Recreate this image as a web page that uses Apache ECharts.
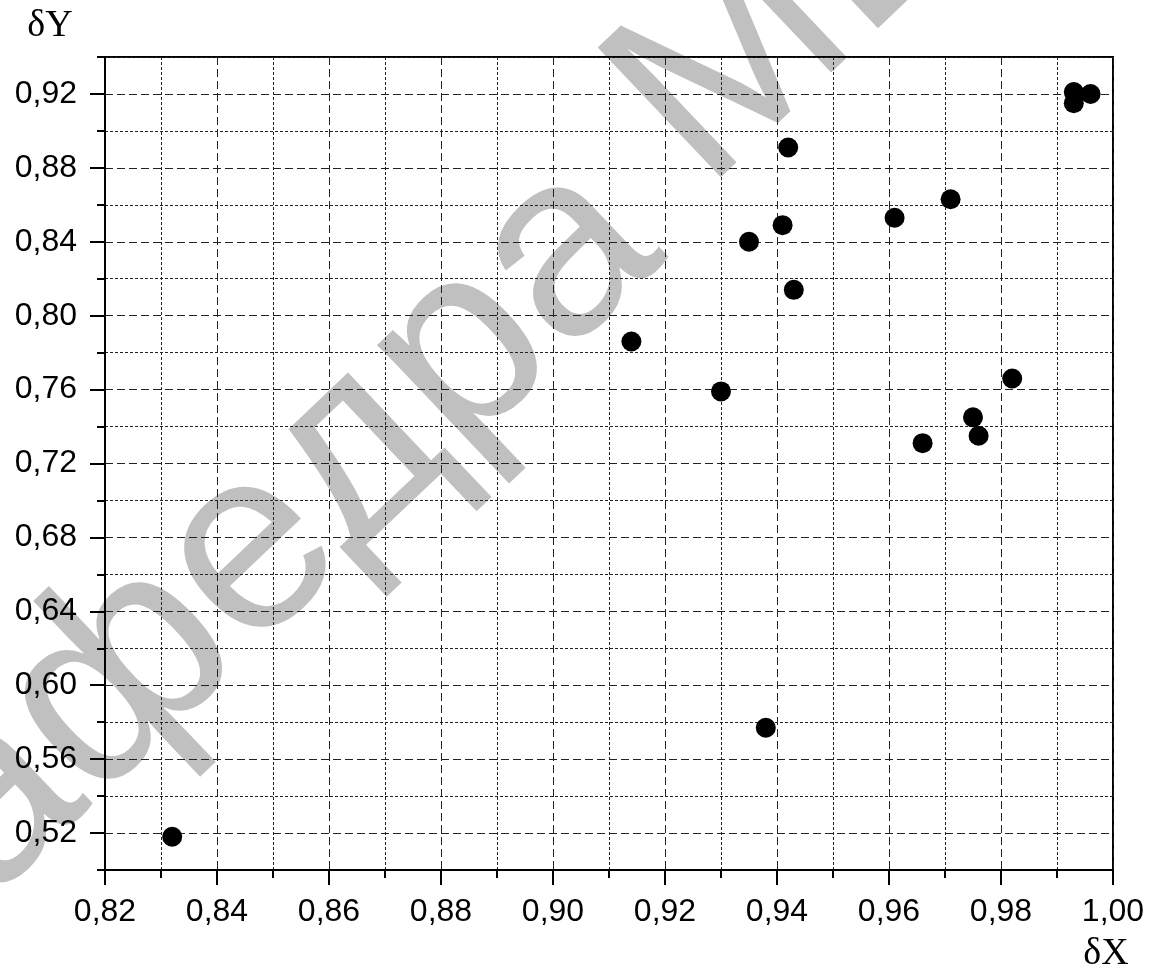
<!DOCTYPE html>
<html>
<head>
<meta charset="utf-8">
<title>δY vs δX</title>
<script src="https://cdn.jsdelivr.net/npm/echarts@6/dist/echarts.min.js"></script>
<style>
  html, body { margin: 0; padding: 0; background: #fff; }
  #chart { width: 1157px; height: 973px; }
</style>
</head>
<body>
<div id="chart"></div>
<script>
// Measured pairs (δX, δY)
const dX = [0.832, 0.914, 0.930, 0.935, 0.938, 0.941, 0.942, 0.943, 0.961,
            0.966, 0.971, 0.975, 0.976, 0.982, 0.993, 0.993, 0.996];
const dY = [0.518, 0.786, 0.759, 0.840, 0.577, 0.849, 0.891, 0.814, 0.853,
            0.731, 0.863, 0.745, 0.735, 0.766, 0.921, 0.915, 0.920];

// Axis ranges and labelled steps
const xRange = [0.82, 1.00];
const xStep = 0.02;
const yRange = [0.50, 0.94];
const yLabelRange = [0.52, 0.92];
const yStep = 0.04;

const xTitle = 'δX';
const yTitle = 'δY';
const stampWord1 = 'кафедра';
const stampWord2 = 'МЕ';

const points = dX.map((x, i) => [x, dY[i]]);
const fmt = v => v.toFixed(2).replace('.', ',');

const W = 1157, H = 973;
const plot = { left: 105, right: 1113, top: 57, bottom: 870 };
// pixel of a y value inside the full plot box, used to align the labelled grid
const yPix = v => plot.bottom - (v - yRange[0]) / (yRange[1] - yRange[0]) * (plot.bottom - plot.top);

const labelFont = { fontFamily: '"Liberation Sans", Arial, sans-serif', fontSize: 32, color: '#000' };
const majorDash = { color: '#222', width: 1, type: [8, 4] };
const minorDash = { color: '#222', width: 1, type: [3, 2] };

// Diagonal stamp: two words laid along a baseline tilted by theta
const theta = 43.5 * Math.PI / 180;
const fs = 260;
const stampFont = fs + 'px "Liberation Sans", Arial, sans-serif';
const ctx = document.createElement('canvas').getContext('2d');
ctx.font = stampFont;
const u = [Math.cos(theta), -Math.sin(theta)];      // along the baseline
const vUp = [-Math.sin(theta), -Math.cos(theta)];   // towards glyph tops
const midShift = 0.3465 * fs;                       // alphabetic -> middle baseline

// first word: centre of its "е" sits at eCentre
const eCentre = [267, 571];
const advKaf = ctx.measureText('каф').width;
const advE = ctx.measureText('е').width;
const eBase = [eCentre[0] - vUp[0] * 0.26 * fs, eCentre[1] - vUp[1] * 0.26 * fs];
const w1Start = [eBase[0] - u[0] * (advKaf + advE / 2), eBase[1] - u[1] * (advKaf + advE / 2)];
const w1Anchor = [w1Start[0] + vUp[0] * midShift, w1Start[1] + vUp[1] * midShift];

// second word: outer foot of the first stem of "М" at mFoot
const mFoot = [732, 192];
const mBearing = 0.074 * fs;
const w2Start = [mFoot[0] - u[0] * mBearing, mFoot[1] - u[1] * mBearing];
const w2Anchor = [w2Start[0] + vUp[0] * midShift, w2Start[1] + vUp[1] * midShift];

const stampText = (text, anchor) => ({
  type: 'text', z: -10, silent: true,
  x: anchor[0], y: anchor[1], rotation: theta,
  style: {
    text: text, fill: '#c0c0c0', font: stampFont,
    textAlign: 'left', textVerticalAlign: 'middle'
  }
});

const chart = echarts.init(document.getElementById('chart'), null, { renderer: 'canvas' });

chart.setOption({
  animation: false,
  backgroundColor: '#fff',
  grid: [
    {
      left: plot.left, right: W - plot.right, top: plot.top, bottom: H - plot.bottom,
      show: true, borderColor: '#000', borderWidth: 2, backgroundColor: 'transparent', z: 2
    },
    {
      left: plot.left, right: W - plot.right, top: yPix(yLabelRange[1]), bottom: H - yPix(yLabelRange[0]),
      show: false, z: 2
    }
  ],
  xAxis: [
    {
      gridIndex: 0, type: 'value', min: xRange[0], max: xRange[1], interval: xStep,
      z: 3,
      axisLine: { show: true, onZero: false, lineStyle: { color: '#000', width: 2 } },
      axisTick: { show: true, length: 15, lineStyle: { color: '#000', width: 2 } },
      minorTick: { show: true, splitNumber: 2, length: 8, lineStyle: { color: '#000', width: 2 } },
      axisLabel: { ...labelFont, margin: 26, formatter: fmt, showMinLabel: true, showMaxLabel: true },
      splitLine: { show: true, lineStyle: majorDash },
      minorSplitLine: { show: true, lineStyle: minorDash }
    },
    {
      gridIndex: 1, type: 'value', min: xRange[0], max: xRange[1], interval: xStep, show: false
    }
  ],
  yAxis: [
    {
      // unlabelled intermediate ticks (0.50, 0.54, ... 0.94)
      gridIndex: 0, type: 'value', min: yRange[0], max: yRange[1], interval: yStep,
      z: 3,
      axisLine: { show: true, onZero: false, lineStyle: { color: '#000', width: 2 } },
      axisTick: { show: true, length: 8, lineStyle: { color: '#000', width: 2 } },
      axisLabel: { show: false },
      splitLine: { show: true, lineStyle: minorDash }
    },
    {
      // labelled ticks (0.52 ... 0.92)
      gridIndex: 1, type: 'value', min: yLabelRange[0], max: yLabelRange[1], interval: yStep,
      z: 3,
      axisLine: { show: false },
      axisTick: { show: true, length: 15, lineStyle: { color: '#000', width: 2 } },
      axisLabel: { ...labelFont, margin: 28, formatter: fmt, showMinLabel: true, showMaxLabel: true },
      splitLine: { show: true, lineStyle: majorDash }
    }
  ],
  graphic: [
    stampText(stampWord1, w1Anchor),
    stampText(stampWord2, w2Anchor),
    {
      type: 'text', z: 10, x: 50, y: 7,
      style: {
        text: yTitle, fill: '#000',
        font: '38px "Liberation Serif", "Times New Roman", serif',
        textAlign: 'center', textVerticalAlign: 'top'
      }
    },
    {
      type: 'text', z: 10, x: 1106, y: 935,
      style: {
        text: xTitle, fill: '#000',
        font: '38px "Liberation Serif", "Times New Roman", serif',
        textAlign: 'center', textVerticalAlign: 'top'
      }
    }
  ],
  series: [
    {
      type: 'scatter',
      xAxisIndex: 0, yAxisIndex: 0,
      data: points,
      symbol: 'circle',
      symbolSize: 20,
      itemStyle: { color: '#000', opacity: 1 },
      z: 5
    }
  ]
});
</script>
</body>
</html>
